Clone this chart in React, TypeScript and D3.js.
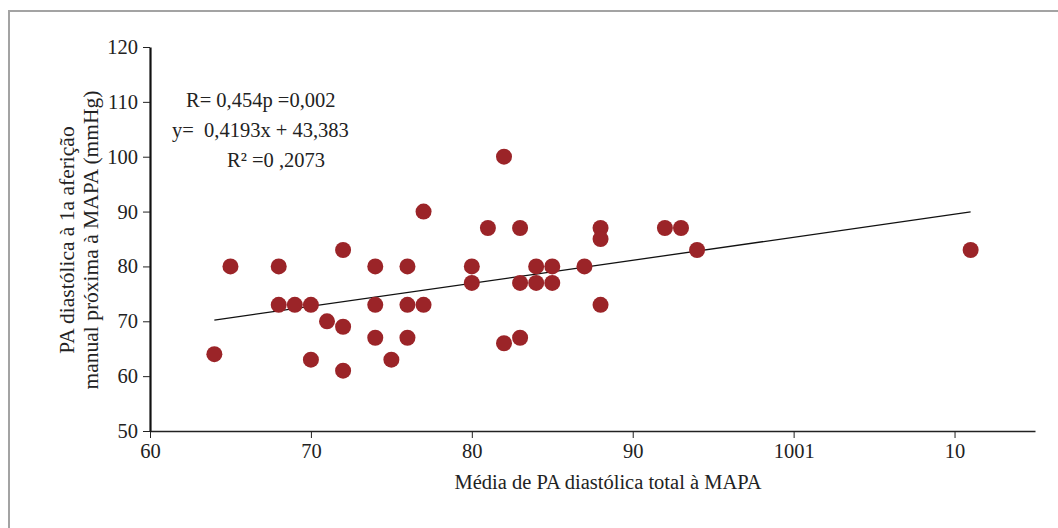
import React, { useEffect, useRef } from 'react';
import * as d3 from 'd3';

// values: [media PA diastolica MAPA, PA diastolica 1a afericao]
const mapaX = [64, 65, 68, 68, 69, 70, 70, 71, 72, 72, 72, 74, 74, 74, 75, 76, 76, 76, 77, 77,
  80, 80, 81, 82, 82, 83, 83, 83, 84, 84, 85, 85, 87, 88, 88, 88, 92, 93, 94, 111];
const manualY = [64, 80, 80, 73, 73, 73, 63, 70, 83, 69, 61, 80, 73, 67, 63, 80, 73, 67, 90, 73,
  80, 77, 87, 100, 66, 87, 77, 67, 80, 77, 80, 77, 80, 87, 85, 73, 87, 87, 83, 83];

const xTicks = [60, 70, 80, 90, 100, 110];
const xTickLabels = ['60', '70', '80', '90', '1001', '10'];
const yTicks = [50, 60, 70, 80, 90, 100, 110, 120];

const slope = 0.4193;
const intercept = 43.383;
const annotations = ['R= 0,454p =0,002', 'y=\u00a0 0,4193x + 43,383', 'R² =0 ,2073'];

const W = 1058;
const H = 528;
const font = '"Liberation Serif", "DejaVu Serif", serif';
const fs = 20.5;

function App() {
  const ref = useRef<SVGSVGElement | null>(null);

  useEffect(() => {
    const svg = d3.select(ref.current);
    svg.selectAll('*').remove();

    // frame
    svg.append('path')
      .attr('d', 'M9,' + (H + 5) + 'V11H' + (W + 5))
      .attr('fill', 'none')
      .attr('stroke', '#a3a3a3')
      .attr('stroke-width', 2);

    const x = d3.scaleLinear().domain([60, 115]).range([150, 1035]);
    const y = d3.scaleLinear().domain([50, 120]).range([431, 47]);

    const xAxis = d3.axisBottom(x)
      .tickValues(xTicks)
      .tickSize(7)
      .tickSizeOuter(0)
      .tickFormat((d, i) => xTickLabels[i]);

    const gx = svg.append('g')
      .attr('transform', 'translate(0,431)')
      .call(xAxis);
    gx.select('.domain').attr('stroke', '#222').attr('stroke-width', 1.5);
    gx.selectAll('.tick line').attr('stroke', '#222');
    gx.selectAll('.tick text')
      .attr('font-family', font)
      .attr('font-size', fs)
      .attr('fill', '#222')
      .attr('y', 12);

    const yAxis = d3.axisLeft(y)
      .tickValues(yTicks)
      .tickSize(7)
      .tickSizeOuter(0);

    const gy = svg.append('g')
      .attr('transform', 'translate(150,0)')
      .call(yAxis);
    gy.select('.domain').attr('stroke', '#111').attr('stroke-width', 2.2);
    gy.selectAll('.tick line').attr('stroke', '#222');
    gy.selectAll('.tick text')
      .attr('font-family', font)
      .attr('font-size', fs)
      .attr('fill', '#222')
      .attr('x', -12);

    // regression line
    const x0 = d3.min(mapaX) as number;
    const x1 = d3.max(mapaX) as number;
    svg.append('line')
      .attr('x1', x(x0))
      .attr('y1', y(slope * x0 + intercept))
      .attr('x2', x(x1))
      .attr('y2', y(slope * x1 + intercept))
      .attr('stroke', '#111')
      .attr('stroke-width', 1.3);

    svg.append('g')
      .selectAll('circle')
      .data(mapaX)
      .enter().append('circle')
      .attr('cx', d => x(d))
      .attr('cy', (d, i) => y(manualY[i]))
      .attr('r', 8)
      .attr('fill', '#9b2428');

    // annotation
    const ann = svg.append('g')
      .attr('font-family', font)
      .attr('font-size', fs)
      .attr('fill', '#222');
    const annX = [186, 172, 227];
    const annY = [107, 137, 167];
    annotations.forEach((t, i) => {
      ann.append('text').attr('x', annX[i]).attr('y', annY[i]).text(t);
    });

    // axis titles
    svg.append('text')
      .attr('x', 608)
      .attr('y', 489)
      .attr('text-anchor', 'middle')
      .attr('font-family', font)
      .attr('font-size', fs)
      .attr('fill', '#222')
      .text('Média de PA diastólica total à MAPA');

    const yl = svg.append('g')
      .attr('transform', 'translate(0,240) rotate(-90)')
      .attr('font-family', font)
      .attr('font-size', 21.5)
      .attr('fill', '#222')
      .attr('text-anchor', 'middle');
    yl.append('text').attr('x', 0).attr('y', 74).text('PA diastólica à 1a aferição');
    yl.append('text').attr('x', 0).attr('y', 98).text('manual próxima à MAPA (mmHg)');
  }, []);

  return (
    <svg
      width={W}
      height={H}
      ref={ref}
      style={{ position: 'absolute', left: 0, top: 0, background: '#fff' }}
    ></svg>
  );
}

export default App;
